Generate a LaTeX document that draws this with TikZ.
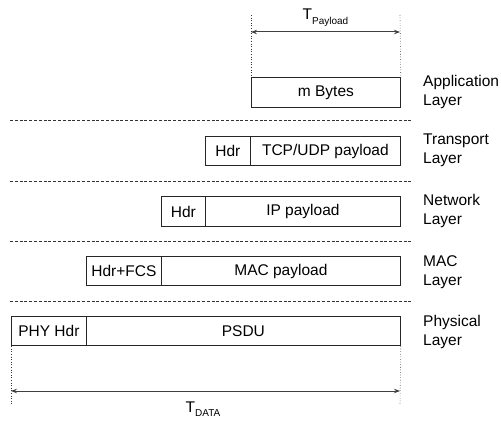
\documentclass[tikz,border=0pt]{standalone}
\usepackage{fontspec}
\setmainfont{Liberation Sans}
\usetikzlibrary{arrows.meta}
\tikzset{
  base font/.style={font=\fontsize{15.5}{19}\selectfont},
  cell/.style={draw=black!85, line width=0.8pt, base font, inner sep=0pt, minimum height=29.5pt, anchor=west},
  sep line/.style={draw=black!80, line width=0.6pt, dash pattern=on 3pt off 1.8pt},
  guide/.style={draw=black!80, line width=0.6pt, dotted},
  span/.style={draw=black!75, line width=1pt, {Stealth[length=6pt,width=4.5pt]}-{Stealth[length=6pt,width=4.5pt]}},
  layer/.style={base font, anchor=west, align=left, inner sep=0pt},
  tlabel/.style={base font, anchor=base, inner sep=0pt},
}
\newcommand{\subsc}[1]{\raisebox{-4.5pt}{\fontsize{10}{10}\selectfont #1}}
\begin{document}
\begin{tikzpicture}[x=1pt,y=-1pt]
\useasboundingbox (0,0) rectangle (501,422);

% cells
\node[cell, minimum width=149pt] (app) at (251,92.5) {m Bytes};

\node[cell, minimum width=45pt] (tcphdr) at (205,151) {Hdr};
\node[cell, minimum width=150pt] (tcppay) at (250,151) {TCP/UDP payload};

\node[cell, minimum width=44pt] (iphdr) at (161,211.5) {Hdr};
\node[cell, minimum width=195pt] (ippay) at (205,211.5) {IP payload};

\node[cell, minimum width=75pt] (machdr) at (86,271) {Hdr+FCS};
\node[cell, minimum width=239pt] (macpay) at (161,271) {MAC payload};

\node[cell, minimum width=75pt] (phyhdr) at (11,331) {PHY Hdr};
\node[cell, minimum width=314pt] (psdu) at (86,331) {PSDU};

% layer labels
\node[layer] (lapp) at (423,92) {Application\\Layer};
\node[layer] (ltr) at (423,150.5) {Transport\\Layer};
\node[layer] (lnet) at (423,210.5) {Network\\Layer};
\node[layer] (lmac) at (423,272) {MAC\\Layer};
\node[layer] (lphy) at (423,332) {Physical\\Layer};

% separators
\coordinate (s1a) at (10,120); \coordinate (s1b) at (413,120);
\coordinate (s2a) at (10,181); \coordinate (s2b) at (413,181);
\coordinate (s3a) at (10,241); \coordinate (s3b) at (413,241);
\coordinate (s4a) at (10,301); \coordinate (s4b) at (413,301);
\draw[sep line] (s1a) -- (s1b);
\draw[sep line] (s2a) -- (s2b);
\draw[sep line] (s3a) -- (s3b);
\draw[sep line] (s4a) -- (s4b);

% top span
\coordinate (tpl) at (251,15); \coordinate (tpr) at (400,15);
\coordinate (apl) at (251,32); \coordinate (apr) at (400,32);
\draw[guide] (tpl) -- (app.north west);
\draw[guide] (tpr) -- (app.north east);
\draw[span] (apl) -- (apr);
\node[tlabel] (tpay) at (325.5,20) {T\subsc{Payload}};

% bottom span
\coordinate (bpl) at (11,405); \coordinate (bpr) at (400,405);
\coordinate (bal) at (11,391); \coordinate (bar) at (400,391);
\draw[guide] (phyhdr.south west) -- (bpl);
\draw[guide] (psdu.south east) -- (bpr);
\draw[span] (bal) -- (bar);
\node[tlabel] (tdata) at (203,412) {T\subsc{DATA}};
\end{tikzpicture}
\end{document}
